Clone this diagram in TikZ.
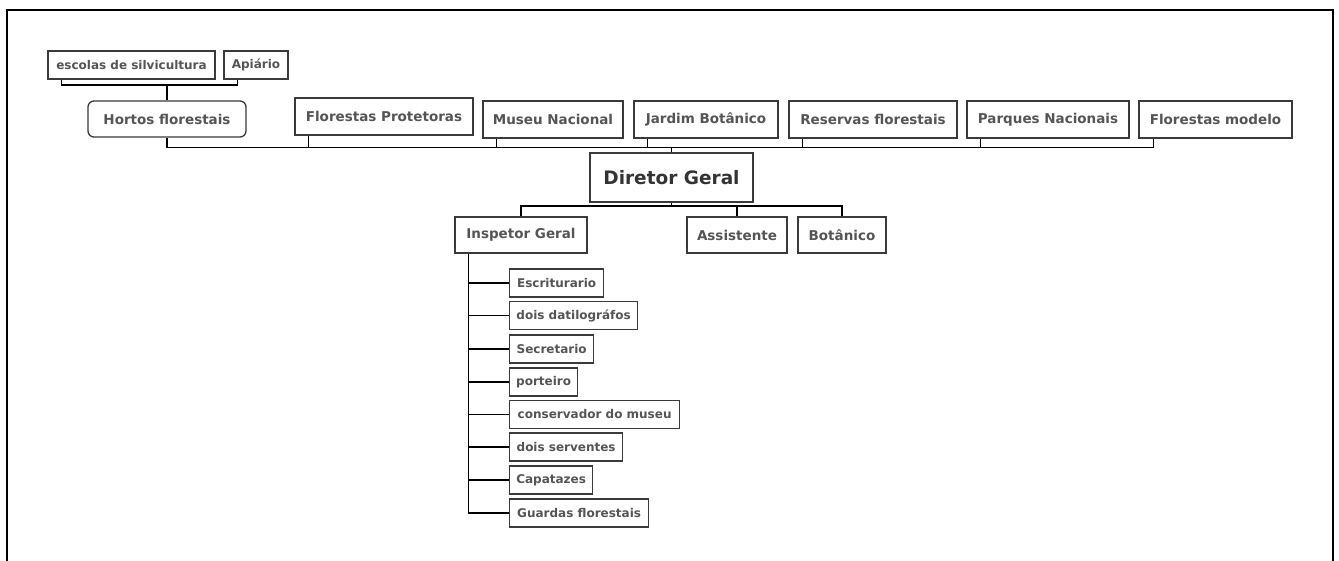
\documentclass[tikz,border=0pt]{standalone}
\usepackage{fontspec}
\setmainfont{DejaVu Sans}
\begin{document}
\definecolor{txt}{HTML}{555555}
\definecolor{edge}{HTML}{3A3A3A}
\begin{tikzpicture}[x=1pt,y=-1pt,
  box/.style={draw=edge,line width=1.3pt,fill=white,text=txt,inner sep=0pt,
    font=\bfseries\fontsize{13.5}{16}\selectfont},
  small/.style={box,minimum height=28pt,font=\bfseries\fontsize{12}{14}\selectfont},
  top/.style={box,minimum height=37pt},
  child/.style={small,anchor=west},
  conn/.style={draw=black,line width=1.5pt}]
\useasboundingbox (0,0) rectangle (1339,561);
% outer frame
\draw[line width=2pt] (7,561) -- (7,10) -- (1333,10) -- (1333,561);

% top row
\node[small,minimum width=167pt] (esc) at (131.5,65) {escolas de silvicultura};
\node[small,minimum width=64pt] (api) at (256,65) {Apiário};
\node[box,rounded corners=6pt,minimum width=158pt,minimum height=36pt] (hortos) at (167,119) {Hortos florestais};
\node[top,minimum width=178pt] (fprot) at (384,116.5) {Florestas Protetoras};
\node[top,minimum width=140pt] (museu) at (553,119.5) {Museu Nacional};
\node[top,minimum width=144pt] (jardim) at (706,119.5) {Jardim Botânico};
\node[top,minimum width=168pt] (reservas) at (873,119.5) {Reservas florestais};
\node[top,minimum width=162pt] (parques) at (1048,119.5) {Parques Nacionais};
\node[top,minimum width=153pt] (fmodelo) at (1215.5,119.5) {Florestas modelo};

% director
\node[box,minimum width=163pt,minimum height=49pt,text=black!80,
  font=\bfseries\fontsize{18.5}{22}\selectfont] (diretor) at (671.5,177.5) {Diretor Geral};

% second row
\node[box,minimum width=132pt,minimum height=36pt] (insp) at (521,235) {Inspetor Geral};
\node[box,minimum width=100pt,minimum height=36pt] (assist) at (737,235) {Assistente};
\node[box,minimum width=88pt,minimum height=36pt] (botan) at (842,235) {Botânico};

% staff under the inspector
\node[child,minimum width=94pt] (c1) at (509,283) {Escriturario};
\node[child,minimum width=128pt] (c2) at (509,315.5) {dois datilográfos};
\node[child,minimum width=84pt] (c3) at (509,349) {Secretario};
\node[child,minimum width=68pt] (c4) at (509,382) {porteiro};
\node[child,minimum width=170pt] (c5) at (509,414.5) {conservador do museu};
\node[child,minimum width=113pt] (c6) at (509,447) {dois serventes};
\node[child,minimum width=83pt] (c7) at (509,480) {Capatazes};
\node[child,minimum width=139pt] (c8) at (509,513) {Guardas florestais};

% bus levels
\coordinate (ebus) at (0,85);
\coordinate (bus) at (0,147.5);
\coordinate (bus2) at (0,206);

% escolas / apiario -> hortos
\draw[conn] ([xshift=14pt]esc.south west) |- ([xshift=14pt]api.south west |- ebus) -- ([xshift=14pt]api.south west);
\draw[conn] (hortos.north) -- (hortos.north |- ebus);

% top row -> director
\draw[conn] (hortos.south) |- ([xshift=15pt]fmodelo.south west |- bus) -- ([xshift=15pt]fmodelo.south west);
\foreach \n in {fprot,museu,jardim,reservas,parques}
  \draw[conn] ([xshift=14pt]\n.south west) -- ([xshift=14pt]\n.south west |- bus);
\draw[conn] (diretor.north) -- (diretor.north |- bus);

% director -> second row
\draw[conn] (diretor.south) -- (diretor.south |- bus2);
\draw[conn] (insp.north) |- (botan.north |- bus2) -- (botan.north);
\draw[conn] (assist.north) -- (assist.north |- bus2);

% inspector -> staff
\coordinate (spine) at ([xshift=14pt]insp.south west);
\draw[conn] (spine) |- (c8.west);
\foreach \c in {c1,c2,c3,c4,c5,c6,c7}
  \draw[conn] (\c.west) -- (\c.west -| spine);
\end{tikzpicture}
\end{document}
